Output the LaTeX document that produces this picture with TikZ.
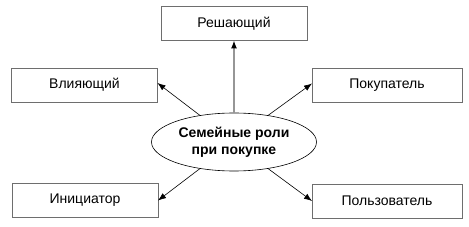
\documentclass[tikz,border=0pt]{standalone}
\usepackage{fontspec}
\setmainfont{Liberation Sans}
\usepackage{tikz}
\usetikzlibrary{arrows.meta, shapes.geometric, positioning}
\usepackage{xcolor}
\definecolor{boxgray}{RGB}{110,110,110}
\definecolor{linegray}{RGB}{150,150,150}

\begin{document}
\begin{tikzpicture}[x=1pt, y=-1pt,
  rolebox/.style={draw=boxgray, line width=0.8pt, minimum width=146pt, minimum height=34pt,
    inner sep=0pt, outer sep=0pt, font=\fontsize{14}{16}\selectfont},
  centre/.style={ellipse, draw=black, line width=0.6pt, minimum width=165pt, minimum height=58pt,
    inner sep=0pt, outer sep=0pt, align=center, font=\fontsize{14}{17}\selectfont\bfseries},
  arr/.style={-{Latex[length=8pt, width=6pt, black]}, line width=0.6pt}]
\useasboundingbox (0,0) rectangle (469,227);
\node[centre] (roles) at (234,142) {Семейные роли\\при покупке};
\node[rolebox] (resh) at (234,23.5) {Решающий};
\node[rolebox] (vliy) at (84.5,85) {Влияющий};
\node[rolebox, minimum width=150pt] (pokup) at (387,85.5) {Покупатель};
\node[rolebox] (inic) at (85,200.5) {Инициатор};
\node[rolebox, minimum width=150pt] (polz) at (387,201) {Пользователь};
\draw[arr, draw=linegray, line width=1.2pt] (roles.north) -- (resh.south);
\draw[arr] (roles.142) -- ([yshift=2pt]vliy.east);
\draw[arr] (roles.38) -- ([yshift=2pt]pokup.west);
\draw[arr] (roles.218) -- (inic.east);
\draw[arr] (roles.322) -- (polz.west);
\end{tikzpicture}
\end{document}
